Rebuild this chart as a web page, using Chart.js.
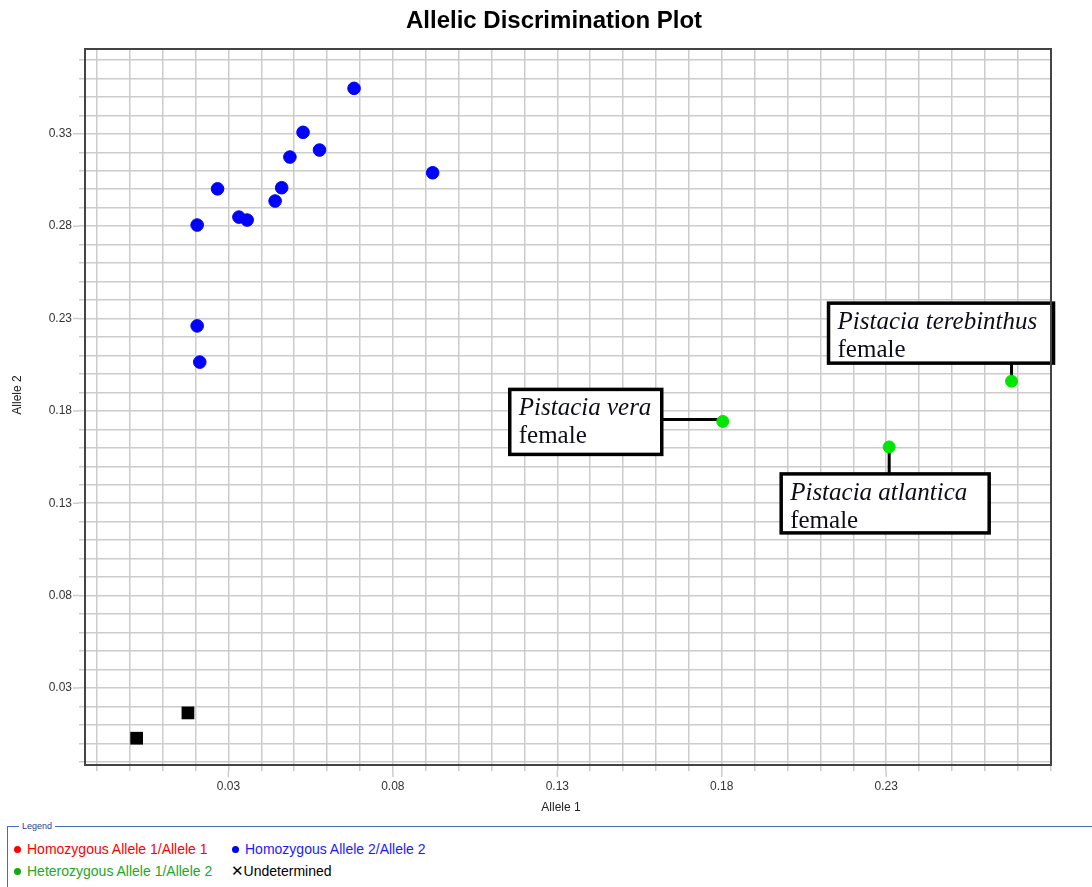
<!DOCTYPE html>
<html>
<head>
<meta charset="utf-8">
<title>Allelic Discrimination Plot</title>
<script src="https://cdn.jsdelivr.net/npm/chart.js@4.4.1/dist/chart.umd.min.js"></script>
<style>
  body { margin: 0; background: #fff; font-family: 'Liberation Sans', Arial, sans-serif; }
  #wrap { position: relative; width: 1092px; height: 887px; overflow: hidden; }
  #plot { position: absolute; left: 0; top: 0; }
  .legend-box { position: absolute; left: 7px; top: 826px; width: 1090px; height: 70px; border-top: 1.5px solid #3d72b4; border-left: 1.5px solid #3d72b4; }
  .legend-caption { position: absolute; left: 11px; top: -7px; padding: 0 3px; background: #fff; font-size: 9px; line-height: 12px; color: #1f3f8f; }
  .legend-item { position: absolute; font-size: 14px; line-height: 16px; white-space: nowrap; }
  .legend-item .dot { display: inline-block; width: 7px; height: 7px; border-radius: 50%; margin-right: 6px; vertical-align: 1px; }
  .legend-item .cross { font-family: 'DejaVu Sans', sans-serif; font-weight: bold; font-size: 15px; color: #000; margin-right: 0; }
</style>
</head>
<body>
<div id="wrap">
  <canvas id="plot" width="1092" height="815"></canvas>

  <!-- Legend block under the plot -->
  <div class="legend-box">
    <span class="legend-caption">Legend</span>
    <div class="legend-item" style="left: 6px; top: 14px; color: #ff0000;"><span class="dot" style="background: #ff0000;"></span>Homozygous Allele 1/Allele 1</div>
    <div class="legend-item" style="left: 224px; top: 14px; color: #1a1aff;"><span class="dot" style="background: #0000ff;"></span>Homozygous Allele 2/Allele 2</div>
    <div class="legend-item" style="left: 6px; top: 36px; color: #22a822;"><span class="dot" style="background: #11aa11;"></span>Heterozygous Allele 1/Allele 2</div>
    <div class="legend-item" style="left: 223px; top: 36px; color: #000;"><span class="cross">✕</span>Undetermined</div>
  </div>
</div>

<script>
// tick labels shown on the axes
const xLabelTicks = [0.03, 0.08, 0.13, 0.18, 0.23];
const yLabelTicks = [0.03, 0.08, 0.13, 0.18, 0.23, 0.28, 0.33];

// Homozygous Allele 1/Allele 1 (no calls in this run)
const homo1X = [];
const homo1Y = [];

// Homozygous Allele 2/Allele 2
const homo2X = [0.0682, 0.0527, 0.0577, 0.0487, 0.0921, 0.0267, 0.0462, 0.0442, 0.0332, 0.0357, 0.0205, 0.0205, 0.0213];
const homo2Y = [0.3546, 0.3308, 0.3212, 0.3174, 0.3089, 0.3002, 0.3008, 0.2936, 0.2849, 0.2833, 0.2806, 0.2260, 0.2064];

// Heterozygous Allele 1/Allele 2 (the three labelled samples)
const hetX = [0.1803, 0.2309, 0.2681];
const hetY = [0.1743, 0.1605, 0.1961];
const hetNames = ['Pistacia vera', 'Pistacia atlantica', 'Pistacia terebinthus'];
const hetSex = ['female', 'female', 'female'];

// Undetermined
const undetX = [0.0177, 0.0021];
const undetY = [0.0165, 0.0028];

const xMin = -0.0136, xMax = 0.2801;
const yMin = -0.0117, yMax = 0.3759;

// callout boxes, placed relative to their point (px)
const callouts = [
  { dx: -213, dy: -32, w: 152, h: 65, lead: 'left' },
  { dx: -108, dy: 27, w: 208, h: 59, lead: 'up' },
  { dx: -183, dy: -78, w: 225, h: 60, lead: 'down' }
];

const toPoints = (xs, ys) => xs.map((x, i) => ({ x: x, y: ys[i] }));

// one grid line every 0.01
const gridTicks = (min, max) => {
  const out = [];
  for (let k = Math.ceil(min * 100); k <= Math.floor(max * 100); k++) out.push({ value: k / 100 });
  return out;
};
const isLabelTick = (list, v) => list.some(t => Math.abs(t - v) < 1e-6);

const FONT = "'Liberation Sans', Arial, sans-serif";
const GRID = '#cccccc';

const decorations = {
  id: 'decorations',
  beforeDatasetsDraw(chart) {
    const ctx = chart.ctx;
    const pts = chart.getDatasetMeta(2).data;
    ctx.save();
    pts.forEach((p, i) => {
      const c = callouts[i];
      const bx = p.x + c.dx, by = p.y + c.dy;
      ctx.strokeStyle = '#000';
      // leader line
      ctx.lineWidth = 3;
      ctx.beginPath();
      if (c.lead === 'left') { ctx.moveTo(bx + c.w, p.y - 2); ctx.lineTo(p.x, p.y - 2); }
      if (c.lead === 'up') { ctx.moveTo(p.x, p.y); ctx.lineTo(p.x, by); }
      if (c.lead === 'down') { ctx.moveTo(p.x, by + c.h); ctx.lineTo(p.x, p.y); }
      ctx.stroke();
      // box
      ctx.fillStyle = '#fff';
      ctx.fillRect(bx, by, c.w, c.h);
      ctx.lineWidth = 3.5;
      ctx.strokeRect(bx, by, c.w, c.h);
      ctx.fillStyle = '#0d0d1a';
      ctx.textAlign = 'left';
      ctx.textBaseline = 'alphabetic';
      ctx.font = "italic 25px 'Liberation Serif', 'Times New Roman', serif";
      ctx.fillText(hetNames[i], bx + 9, by + 26);
      ctx.font = "25px 'Liberation Serif', 'Times New Roman', serif";
      ctx.fillText(hetSex[i], bx + 9, by + 54);
    });
    ctx.restore();
  },
  afterDraw(chart) {
    const { ctx, chartArea: a, scales } = chart;
    ctx.save();
    // longer tick marks at the labelled values
    ctx.strokeStyle = GRID;
    ctx.lineWidth = 1.5;
    ctx.beginPath();
    yLabelTicks.forEach(v => {
      const y = scales.y.getPixelForValue(v);
      ctx.moveTo(a.left - 12, y); ctx.lineTo(a.left - 6, y);
    });
    xLabelTicks.forEach(v => {
      const x = scales.x.getPixelForValue(v);
      ctx.moveTo(x, a.bottom + 6); ctx.lineTo(x, a.bottom + 12);
    });
    ctx.stroke();
    // plot frame
    ctx.strokeStyle = '#444';
    ctx.lineWidth = 2;
    ctx.strokeRect(a.left, a.top, a.right - a.left, a.bottom - a.top);
    // title
    ctx.fillStyle = '#000';
    ctx.textAlign = 'center';
    ctx.textBaseline = 'alphabetic';
    ctx.font = 'bold 24px ' + FONT;
    ctx.fillText('Allelic Discrimination Plot', (a.left + a.right) / 2 - 14, 28);
    // axis titles
    ctx.font = '12px ' + FONT;
    ctx.fillStyle = '#222';
    ctx.textBaseline = 'middle';
    ctx.fillText('Allele 1', (a.left + a.right) / 2 - 7, 808);
    ctx.translate(18, (a.top + a.bottom) / 2 - 12);
    ctx.rotate(-Math.PI / 2);
    ctx.fillText('Allele 2', 0, 0);
    ctx.restore();
  }
};

new Chart(document.getElementById('plot'), {
  type: 'scatter',
  data: {
    datasets: [
      { label: 'Homozygous Allele 1/Allele 1', data: toPoints(homo1X, homo1Y), backgroundColor: '#ff0000', borderColor: '#ff0000', pointRadius: 6.3, borderWidth: 1 },
      { label: 'Homozygous Allele 2/Allele 2', data: toPoints(homo2X, homo2Y), backgroundColor: '#0000ff', borderColor: '#0000ff', pointRadius: 6.3, borderWidth: 1 },
      { label: 'Heterozygous Allele 1/Allele 2', data: toPoints(hetX, hetY), backgroundColor: '#00e600', borderColor: '#00e600', pointRadius: 6, borderWidth: 1 },
      { label: 'Undetermined', data: toPoints(undetX, undetY), backgroundColor: '#000', borderColor: '#000', pointStyle: 'rect', pointRadius: 9, borderWidth: 0 }
    ]
  },
  options: {
    responsive: false,
    animation: false,
    events: [],
    layout: { padding: { top: 49, right: 41, left: 0, bottom: 0 } },
    plugins: {
      legend: { display: false },
      title: { display: false },
      tooltip: { enabled: false }
    },
    scales: {
      x: {
        type: 'linear',
        min: xMin,
        max: xMax,
        afterBuildTicks: (axis) => { axis.ticks = gridTicks(xMin, xMax); },
        afterFit: (axis) => { axis.height = 50; },
        grid: { color: GRID, lineWidth: 1.5, tickLength: 6 },
        border: { display: false },
        ticks: {
          autoSkip: false,
          maxRotation: 0,
          padding: 8,
          color: '#333',
          font: { family: FONT, size: 12 },
          callback: (v) => isLabelTick(xLabelTicks, v) ? v.toFixed(2) : ''
        }
      },
      y: {
        type: 'linear',
        min: yMin,
        max: yMax,
        afterBuildTicks: (axis) => { axis.ticks = gridTicks(yMin, yMax); },
        afterFit: (axis) => { axis.width = 85; },
        grid: { color: GRID, lineWidth: 1.5, tickLength: 6 },
        border: { display: false },
        ticks: {
          autoSkip: false,
          padding: 7,
          color: '#333',
          font: { family: FONT, size: 12 },
          callback: (v) => isLabelTick(yLabelTicks, v) ? v.toFixed(2) : ''
        }
      }
    }
  },
  plugins: [decorations]
});
</script>
</body>
</html>
